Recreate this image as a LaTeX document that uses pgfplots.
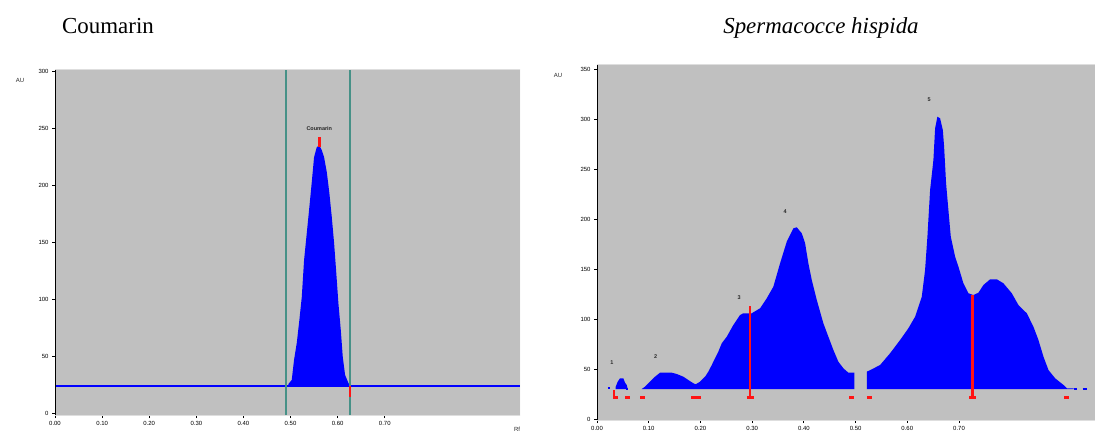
\documentclass[border=0pt]{standalone}
\usepackage{pgfplots}
\pgfplotsset{compat=1.18}
\usepackage{fontspec}
\setmainfont{Liberation Serif}
\newfontfamily\tickfont{Liberation Sans}
\definecolor{plotgray}{RGB}{192,192,192}
\definecolor{bordergray}{RGB}{222,222,222}
\definecolor{markteal}{RGB}{70,145,135}
\definecolor{fillblue}{RGB}{0,0,255}
\definecolor{markred}{RGB}{255,20,20}
\definecolor{labgray}{RGB}{40,40,40}

\pgfplotsset{
  densito/.style={
    scale only axis,
    anchor=south west,
    axis background/.style={fill=plotgray},
    axis line style={draw=none},
    tick pos=left,
    tick align=outside,
    major tick length=3bp,
    tick style={black, line width=0.8bp},
    xtick={0,0.1,...,0.71},
    xticklabel style={font=\tickfont\fontsize{6}{7}\selectfont, /pgf/number format/.cd, fixed, fixed zerofill, precision=2, assume math mode=true},
    yticklabel style={font=\tickfont\fontsize{6}{7}\selectfont, /pgf/number format/.cd, fixed, precision=0, assume math mode=true},
    xmin=0,
  }
}

\begin{document}
\begin{tikzpicture}[x=1bp,y=1bp]
\useasboundingbox (0,0) rectangle (1095,432);

\node[anchor=base west, inner sep=0pt, font=\fontsize{23}{26}\selectfont] at (62,398) {Coumarin};
\node[anchor=base, inner sep=0pt, font=\fontsize{23}{26}\selectfont\itshape] at (821,398) {Spermacocce hispida};

\node[font=\tickfont\fontsize{6}{7}\selectfont, labgray] at (20,352) {AU};
\node[font=\tickfont\fontsize{6}{7}\selectfont, labgray] at (558,357) {AU};
\node[font=\tickfont\fontsize{6}{7}\selectfont, labgray] at (517,3) {Rf};

% ---------------- left: Coumarin ----------------
\begin{axis}[densito,
  at={(55bp,17bp)}, width=465bp, height=345bp,
  xmax=0.987, ymin=-1, ymax=301,
  ytick={0,50,...,300},
]
\draw[bordergray, line width=1bp] (rel axis cs:0,1) -- (rel axis cs:1,1) -- (rel axis cs:1,0) -- (rel axis cs:0,0);
\addplot[fill=fillblue, draw=none] coordinates {
(0.4953,24.5) (0.4953,26) (0.5025,29.7) (0.5074,47.2) (0.5132,62.1) (0.5187,82.2)
(0.5238,102.3) (0.5287,134.6) (0.5344,158.2) (0.5399,181.0) (0.5450,202.8)
(0.5499,224.7) (0.5556,233.4) (0.5611,235.1) (0.5662,230.8) (0.5711,224.7)
(0.5769,211.5) (0.5824,193.2) (0.5875,172.2) (0.5924,149.5) (0.5966,125.9)
(0.6015,97.0) (0.6066,73.4) (0.6108,49.8) (0.6157,34.1) (0.6227,27.1) (0.6263,24.5)
};
\addplot[fillblue, line width=2bp] coordinates {(0,24.5) (0.987,24.5)};
\addplot[markteal, line width=1.6bp] coordinates {(0.490,-1) (0.490,301)};
\addplot[markteal, line width=1.6bp] coordinates {(0.626,-1) (0.626,301)};
\addplot[markred, line width=2.4bp] coordinates {(0.5611,234) (0.5611,242)};
\addplot[markred, line width=2.4bp] coordinates {(0.6263,24.5) (0.6263,15)};
\node[font=\tickfont\bfseries\fontsize{5.5}{6}\selectfont, labgray] at (axis cs:0.561,250) {Coumarin};
\draw[black, line width=2bp] (rel axis cs:0,0) -- (rel axis cs:0,1);
\end{axis}

% ---------------- right: Spermacocce hispida ----------------
\begin{axis}[densito,
  at={(597bp,12bp)}, width=498bp, height=355bp,
  xmax=0.963, ymin=-1, ymax=354,
  ytick={0,50,...,350},
]
\draw[bordergray, line width=1bp] (rel axis cs:0,1) -- (rel axis cs:1,1);
\draw[bordergray, line width=1bp] (rel axis cs:0,0) -- (rel axis cs:1,0);
% peak 1
\addplot[fill=fillblue, draw=none] coordinates {
(0.0362,30) (0.0362,32.3) (0.0400,37.3) (0.0445,40.7) (0.0509,40.7)
(0.0542,36.3) (0.0574,34) (0.0594,30)
};
% peaks 2-4
\addplot[fill=fillblue, draw=none] coordinates {
(0.0865,30) (0.0928,32.3) (0.0992,35.7) (0.1058,39) (0.1122,42.3) (0.1219,46.3)
(0.1445,46.3) (0.1542,45) (0.1669,42.3) (0.1766,39) (0.1863,35.7) (0.1909,34.7)
(0.1992,37.3) (0.2089,42.3) (0.2153,47.3) (0.2219,54) (0.2282,60.7) (0.2346,67.3)
(0.2412,75.7) (0.2509,82.3) (0.2636,94) (0.2766,104) (0.2830,105.7) (0.2992,105.7)
(0.3153,110.7) (0.3282,120.7) (0.3410,132.3) (0.3540,155.7) (0.3669,177.3)
(0.3797,190.7) (0.3863,191.7) (0.3959,185.7) (0.4023,176) (0.4087,155.7)
(0.4153,139) (0.4250,119) (0.4377,95.7) (0.4474,82.3) (0.4571,69) (0.4667,57.3)
(0.4764,50.7) (0.4861,46.3) (0.4977,46.3) (0.4977,30)
};
% peaks 5-6
\addplot[fill=fillblue, draw=none] coordinates {
(0.5217,30) (0.5217,47.3) (0.5313,49.7) (0.5474,54) (0.5667,65.7) (0.5861,79)
(0.6021,90.7) (0.6151,102.3) (0.6280,122.3) (0.6344,149) (0.6389,182.3)
(0.6441,229) (0.6505,259) (0.6538,290.7) (0.6582,302.3) (0.6634,300.7)
(0.6687,289) (0.6712,272.3) (0.6750,235.7) (0.6795,209) (0.6841,182.3)
(0.6925,162.3) (0.6989,152.3) (0.7085,135.7) (0.7182,125.7) (0.7279,124)
(0.7376,126.3) (0.7472,134) (0.7602,139.7) (0.7731,139.7) (0.7859,135.7)
(0.8021,125.7) (0.8149,114) (0.8311,105.7) (0.8439,92.3) (0.8536,79)
(0.8633,62.3) (0.8730,49) (0.8859,40.7) (0.9021,34) (0.9087,30.7)
(0.9215,30.7) (0.9215,30)
};
\addplot[fillblue, line width=1.5bp] coordinates {(0.0570,30) (0.0600,30)};
\addplot[fillblue, line width=1.5bp] coordinates {(0.9215,30) (0.9280,30)};
\addplot[fillblue, line width=2bp] coordinates {(0.0212,31) (0.0252,31)};
\addplot[fillblue, line width=2bp] coordinates {(0.9390,30) (0.9470,30)};
% red integration marks
\addplot[markred, line width=2.4bp] coordinates {(0.0329,29) (0.0329,21.5) (0.0400,21.5)};
\addplot[markred, line width=2.4bp] coordinates {(0.0542,21.5) (0.0638,21.5)};
\addplot[markred, line width=2.4bp] coordinates {(0.0832,21.5) (0.0928,21.5)};
\addplot[markred, line width=2.4bp] coordinates {(0.1818,21.5) (0.2012,21.5)};
\addplot[markred, line width=2.4bp] coordinates {(0.2896,21.5) (0.3043,21.5)};
\addplot[markred, line width=2.2bp] coordinates {(0.2959,113) (0.2959,21.5)};
\addplot[markred, line width=2.4bp] coordinates {(0.4880,21.5) (0.4971,21.5)};
\addplot[markred, line width=2.4bp] coordinates {(0.5217,21.5) (0.5313,21.5)};
\addplot[markred, line width=2.4bp] coordinates {(0.7195,21.5) (0.7331,21.5)};
\addplot[markred, line width=2.2bp] coordinates {(0.7259,124) (0.7259,21.5)};
\addplot[markred, line width=2.4bp] coordinates {(0.9033,21.5) (0.9130,21.5)};
% peak numbers
\node[font=\tickfont\bfseries\fontsize{5.5}{6}\selectfont, labgray] at (axis cs:0.029,56) {1};
\node[font=\tickfont\bfseries\fontsize{5.5}{6}\selectfont, labgray] at (axis cs:0.1135,62) {2};
\node[font=\tickfont\bfseries\fontsize{5.5}{6}\selectfont, labgray] at (axis cs:0.2747,121) {3};
\node[font=\tickfont\bfseries\fontsize{5.5}{6}\selectfont, labgray] at (axis cs:0.3636,207) {4};
\node[font=\tickfont\bfseries\fontsize{5.5}{6}\selectfont, labgray] at (axis cs:0.6422,319) {5};
\draw[black, line width=2bp] (rel axis cs:0,0) -- (rel axis cs:0,1);
\end{axis}
\end{tikzpicture}
\end{document}
